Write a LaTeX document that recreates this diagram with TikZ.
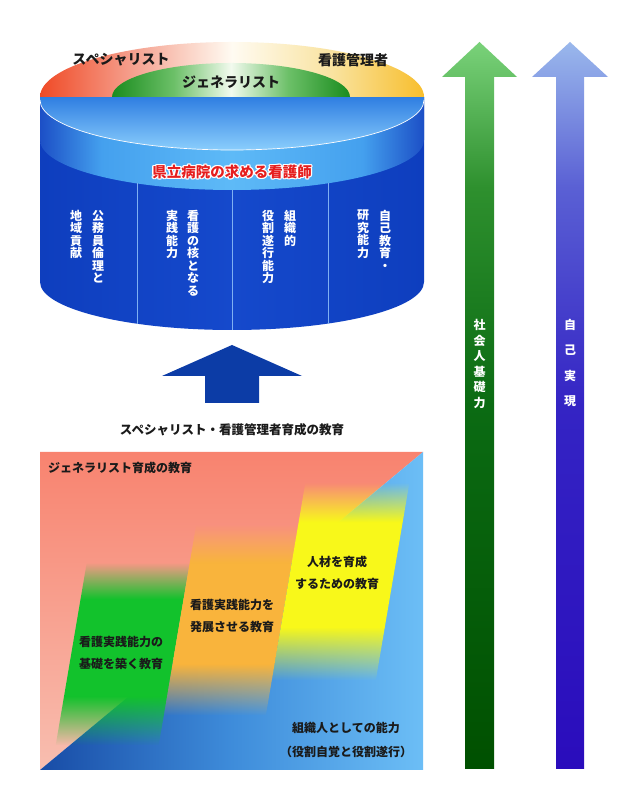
\documentclass[tikz,border=0pt]{standalone}
\usepackage{fontspec}
\newfontfamily\jp{Noto Sans CJK JP}
\usetikzlibrary{fadings}

\definecolor{hatL}{HTML}{F04A26}
\definecolor{hatLP}{HTML}{F5A08E}
\definecolor{hatC}{HTML}{FFFBF2}
\definecolor{hatRY}{HTML}{F9E3A0}
\definecolor{hatR}{HTML}{F8BE2C}
\definecolor{genD}{HTML}{1A8C1E}
\definecolor{genM}{HTML}{6CC068}
\definecolor{genL}{HTML}{F2FAEE}
\definecolor{cylBody}{HTML}{0E3EBE}
\definecolor{cylBodyC}{HTML}{1549CC}
\definecolor{cylTop1}{HTML}{2F7EE2}
\definecolor{cylTop2}{HTML}{8ACEFC}
\definecolor{band1}{HTML}{1C4FC6}
\definecolor{band2}{HTML}{44A0EE}
\definecolor{band3}{HTML}{5EBAF7}
\definecolor{divider}{HTML}{7FB0F2}
\definecolor{redtxt}{HTML}{E61E1E}
\definecolor{upblue}{HTML}{0C3CA6}
\definecolor{salmonT}{HTML}{F8836F}
\definecolor{salmonB}{HTML}{F8BEB0}
\definecolor{blueL}{HTML}{184CA6}
\definecolor{blueM}{HTML}{3E8CDA}
\definecolor{blueR}{HTML}{6CBEF6}
\definecolor{bandG}{HTML}{12C22C}
\definecolor{bandO}{HTML}{F9B43C}
\definecolor{bandY}{HTML}{F8F81A}
\definecolor{txtdark}{HTML}{1A1A1A}

\pgfdeclarehorizontalshading{hatshade}{100bp}{color(0bp)=(hatL); color(25bp)=(hatL); color(37bp)=(hatLP); color(50bp)=(hatC); color(63bp)=(hatRY); color(75bp)=(hatR); color(100bp)=(hatR)}
\pgfdeclarehorizontalshading{genshade}{100bp}{color(0bp)=(genD); color(25bp)=(genD); color(38bp)=(genM); color(50bp)=(genL); color(62bp)=(genM); color(75bp)=(genD); color(100bp)=(genD)}
\pgfdeclarehorizontalshading{bandshade}{100bp}{color(0bp)=(band1); color(25bp)=(band1); color(33bp)=(band2); color(50bp)=(band3); color(67bp)=(band2); color(75bp)=(band1); color(100bp)=(band1)}
\pgfdeclareverticalshading{bandfadeshade}{100bp}{color(0bp)=(black); color(25bp)=(black); color(38.5bp)=(white); color(65bp)=(white); color(75bp)=(black); color(100bp)=(black)}
\pgfdeclarefading{bandfade}{\pgfuseshading{bandfadeshade}}

\definecolor{aG1}{HTML}{005000}
\definecolor{aG2}{HTML}{0B6B13}
\definecolor{aG3}{HTML}{2E902E}
\definecolor{aG4}{HTML}{7AD27A}
\definecolor{aB1}{HTML}{2A0CBC}
\definecolor{aB2}{HTML}{3424C4}
\definecolor{aB3}{HTML}{5A60D4}
\definecolor{aB4}{HTML}{9AB8EC}
\pgfdeclareverticalshading{greenarrow}{100bp}{color(0bp)=(aG1); color(25bp)=(aG1); color(50bp)=(aG2); color(65bp)=(aG3); color(75bp)=(aG4); color(100bp)=(aG4)}
\pgfdeclareverticalshading{bluearrow}{100bp}{color(0bp)=(aB1); color(25bp)=(aB1); color(50bp)=(aB2); color(65bp)=(aB3); color(75bp)=(aB4); color(100bp)=(aB4)}

% text with a white halo, all in one box
\newcommand{\haloText}[1]{\leavevmode
  \rlap{\color{white}\kern1.3pt #1}%
  \rlap{\color{white}\kern-1.3pt #1}%
  \rlap{\color{white}\raisebox{1.3pt}{#1}}%
  \rlap{\color{white}\raisebox{-1.3pt}{#1}}%
  \rlap{\color{white}\kern0.9pt\raisebox{0.9pt}{#1}}%
  \rlap{\color{white}\kern-0.9pt\raisebox{0.9pt}{#1}}%
  \rlap{\color{white}\kern0.9pt\raisebox{-0.9pt}{#1}}%
  \rlap{\color{white}\kern-0.9pt\raisebox{-0.9pt}{#1}}%
  {\color{redtxt}#1}}

\tikzset{
  hattext/.style={font=\jp\bfseries\fontsize{14}{14}\selectfont, text=txtdark, inner sep=0},
  titletxt/.style={font=\jp\bfseries\fontsize{14.5}{14.5}\selectfont, inner sep=0},
  vcol/.style={font=\jp\bfseries\fontsize{12}{12.5}\selectfont, text=white, align=center, anchor=north, inner sep=0},
  captxt/.style={font=\jp\bfseries\fontsize{12.5}{12.5}\selectfont, text=txtdark, inner sep=0},
  boxlbl/.style={font=\jp\bfseries\fontsize{12}{12}\selectfont, text=txtdark, inner sep=0},
  boxtxt/.style={font=\jp\bfseries\fontsize{12}{22}\selectfont, text=txtdark, align=center, inner sep=0},
  gtxt/.style={font=\jp\bfseries\fontsize{12}{15.6}\selectfont, text=white, align=center, anchor=north, inner sep=0},
  btxt/.style={font=\jp\bfseries\fontsize{12}{25.5}\selectfont, text=white, align=center, anchor=north, inner sep=0},
  bandfill/.style={path fading=bandfade}
}

\begin{document}
\begin{tikzpicture}[x=1pt,y=1pt]
\useasboundingbox (0,0) rectangle (634,800);
\fill[white] (0,0) rectangle (634,800);

% ---------- cylinder ----------
\shade[left color=cylBody, right color=cylBody, middle color=cylBodyC]
  (40,703) -- (40,518) arc[start angle=180,end angle=360,x radius=192,y radius=48] -- (424,703) -- cycle;
\shade[shading=bandshade]
  (40,700) arc[start angle=180,end angle=360,x radius=192,y radius=50] -- (424,660)
  arc[start angle=0,end angle=-180,x radius=192,y radius=50] -- cycle;
\shade[top color=cylTop1, bottom color=cylTop2]
  (40,703) -- (40,700) arc[start angle=180,end angle=360,x radius=192,y radius=50] -- (424,703) -- cycle;
\draw[white, line width=0.7] (40,700) arc[start angle=180,end angle=360,x radius=192,y radius=50];
\draw[divider, line width=0.7] (137,616.6) -- (137,476.3);
\draw[divider, line width=0.7] (232,610) -- (232,470);
\draw[divider, line width=0.7] (328,616.7) -- (328,476.4);

% ---------- hat ----------
\shade[shading=hatshade] (40,703) arc[start angle=180,end angle=0,x radius=192,y radius=55] -- cycle;
\shade[shading=genshade] (112,703) arc[start angle=180,end angle=0,x radius=119,y radius=34] -- cycle;
\node[hattext] (spec) at (121,740) {スペシャリスト};
\node[hattext] (mgr) at (353,740) {看護管理者};
\node[hattext] (gen) at (231,718) {ジェネラリスト};

% ---------- title ----------
\node[titletxt] (title) at (232,628) {\haloText{県立病院の求める看護師}};

% ---------- columns ----------
\node[vcol] (c1r) at (98,590) {公\\務\\員\\倫\\理\\と};
\node[vcol] (c1l) at (76,590) {地\\域\\貢\\献};
\node[vcol] (c2r) at (193,590) {看\\護\\の\\核\\と\\な\\る};
\node[vcol] (c2l) at (172,590) {実\\践\\能\\力};
\node[vcol] (c3r) at (290,590) {組\\織\\的};
\node[vcol] (c3l) at (268,590) {役\\割\\遂\\行\\能\\力};
\node[vcol] (c4r) at (385,590) {自\\己\\教\\育\\・};
\node[vcol] (c4l) at (363,590) {研\\究\\能\\力};

% ---------- up arrow ----------
\fill[upblue] (205,397) -- (259,397) -- (259,424) -- (302,424) -- (232,455) -- (162,424) -- (205,424) -- cycle;
\node[captxt] (cap) at (232,370) {スペシャリスト・看護管理者育成の教育};

% ---------- education box ----------
\shade[top color=salmonT, bottom color=salmonB] (40,348) -- (423,348) -- (40,30) -- cycle;
\shade[left color=blueL, right color=blueR, middle color=blueM] (40,30) -- (423,30) -- (423,348) -- cycle;
\fill[bandG, bandfill] (55.75,55) -- (158.75,55) -- (189.7,237) -- (86.7,237) -- cycle;
\fill[bandO, bandfill] (163.85,85) -- (265.85,85) -- (298.15,275) -- (196.15,275) -- cycle;
\fill[bandY, bandfill] (271.8,120) -- (375.8,120) -- (409.3,317) -- (305.3,317) -- cycle;

\node[boxlbl, anchor=west] (genedu) at (48,332) {ジェネラリスト育成の教育};
\node[boxtxt] (yel) at (337,227) {人材を育成\\するための教育};
\node[boxtxt] (ora) at (232,184) {看護実践能力を\\発展させる教育};
\node[boxtxt] (grn) at (121,147.5) {看護実践能力の\\基礎を築く教育};
\node[boxtxt, font=\jp\bfseries\fontsize{12}{24}\selectfont] (org) at (346,60) {組織人としての能力\\（役割自覚と役割遂行）};

% ---------- right arrows ----------
\shade[shading=greenarrow] (465,31) -- (494,31) -- (494,723) -- (517,723) -- (479.5,758) -- (442,723) -- (465,723) -- cycle;
\shade[shading=bluearrow] (556,31) -- (584,31) -- (584,723) -- (608,723) -- (570,758) -- (532,723) -- (556,723) -- cycle;
\node[gtxt] (shakai) at (479.5,481) {社\\会\\人\\基\\礎\\力};
\node[btxt] (jiko) at (570,481) {自\\己\\実\\現};
\end{tikzpicture}
\end{document}
